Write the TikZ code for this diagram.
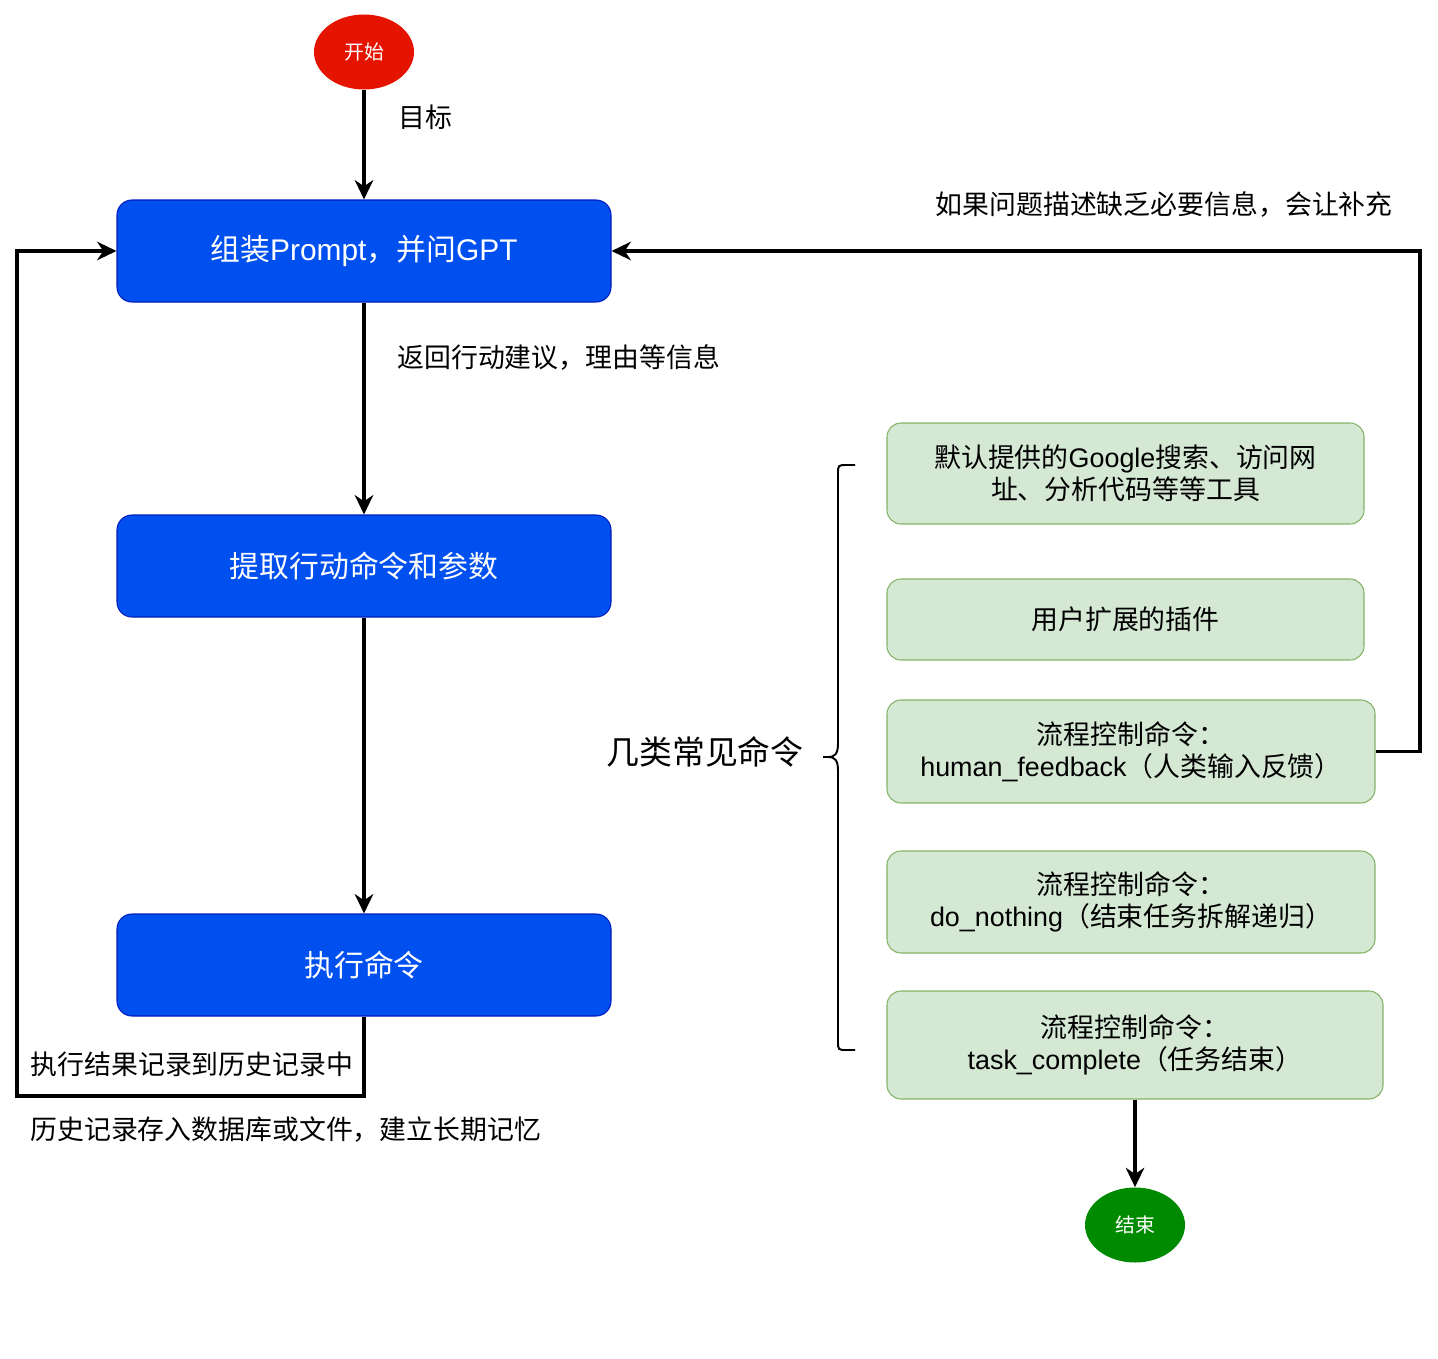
\documentclass[tikz,border=0pt]{standalone}
\usepackage{fontspec}
\setmainfont{Noto Sans CJK SC}
\newfontfamily\lat{Liberation Sans}
\usetikzlibrary{arrows.meta,shapes.geometric}

\definecolor{stepfill}{HTML}{0050EF}
\definecolor{stepline}{HTML}{001DBC}
\definecolor{cmdfill}{HTML}{D5E8D4}
\definecolor{cmdline}{HTML}{82B366}
\definecolor{startred}{HTML}{E51400}
\definecolor{endgreen}{HTML}{008A00}

\tikzset{
  stepbox/.style={draw=stepline, fill=stepfill, rounded corners=0.3cm, line width=0.6pt,
    minimum width=9.88cm, minimum height=2.04cm, inner sep=0pt, text=white,
    font=\fontsize{17}{20}\selectfont},
  cmdbox/.style={draw=cmdline, fill=cmdfill, rounded corners=0.28cm, line width=0.6pt,
    inner sep=0pt, align=center, font=\fontsize{15.3}{18}\selectfont},
  terminal/.style={ellipse, minimum width=2cm, minimum height=1.5cm, inner sep=0pt,
    text=white, font=\fontsize{11.3}{13}\selectfont},
  flow/.style={-{Stealth[length=11pt,width=10.5pt,inset=3.5pt]}, line width=1.8pt},
  note/.style={font=\fontsize{15.3}{18}\selectfont, inner sep=0pt},
}

\begin{document}
\begin{tikzpicture}
  \useasboundingbox (0,0) rectangle (28.76,-27.16);

  % main flow
  \node[terminal, fill=startred] (start) at (7.28,-1.04) {开始};
  \node[stepbox] (prompt) at (7.28,-5.02) {组装{\lat Prompt}，并问{\lat GPT}};
  \node[stepbox] (extract) at (7.28,-11.32) {提取行动命令和参数};
  \node[stepbox] (exec) at (7.28,-19.30) {执行命令};

  % command kinds
  \node[cmdbox, minimum width=9.54cm, minimum height=2.02cm] (tools) at (22.51,-9.47)
    {默认提供的{\lat Google}搜索、访问网\\址、分析代码等等工具};
  \node[cmdbox, minimum width=9.54cm, minimum height=1.62cm] (plugins) at (22.51,-12.39)
    {用户扩展的插件};
  \node[cmdbox, minimum width=9.76cm, minimum height=2.06cm] (feedback) at (22.62,-15.03)
    {流程控制命令：\\{\lat human\_feedback}（人类输入反馈）};
  \node[cmdbox, minimum width=9.76cm, minimum height=2.04cm] (nothing) at (22.62,-18.04)
    {流程控制命令：\\{\lat do\_nothing}（结束任务拆解递归）};
  \node[cmdbox, minimum width=9.92cm, minimum height=2.16cm] (complete) at (22.70,-20.90)
    {流程控制命令：\\{\lat task\_complete}（任务结束）};
  \node[terminal, fill=endgreen] (end) at (22.70,-24.50) {结束};

  % brace round the command kinds
  \draw[line width=1.1pt]
    (17.10,-9.30) -- (16.94,-9.30) .. controls (16.76,-9.30) .. (16.76,-9.48)
    -- (16.76,-14.86) .. controls (16.76,-15.08) and (16.70,-15.14) .. (16.56,-15.14)
    -- (16.46,-15.14) -- (16.56,-15.14)
    .. controls (16.70,-15.14) and (16.76,-15.20) .. (16.76,-15.42)
    -- (16.76,-20.82) .. controls (16.76,-21.00) .. (16.94,-21.00) -- (17.10,-21.00);
  \node[font=\fontsize{18.7}{22}\selectfont, inner sep=0pt] (kinds) at (14.10,-15.04) {几类常见命令};

  % connectors
  \draw[flow] (start) -- (prompt);
  \node[note, anchor=west] (goal) at (7.96,-2.34) {目标};
  \draw[flow] (prompt) -- (extract);
  \node[note, anchor=west] (advice) at (7.94,-7.16) {返回行动建议，理由等信息};
  \draw[flow] (extract) -- (exec);

  \coordinate (loopcorner) at (0.34,-21.92);
  \draw[flow] (exec.south) |- (loopcorner) |- (prompt.west);
  \node[note] (record) at (3.84,-21.28) {执行结果记录到历史记录中};
  \node[note, anchor=west] (memory) at (0.60,-22.60) {历史记录存入数据库或文件，建立长期记忆};

  \coordinate (askcorner) at (28.40,-15.03);
  \draw[flow] (feedback.east) -- (askcorner) |- (prompt.east);
  \node[note, anchor=east] (ask) at (27.86,-4.10) {如果问题描述缺乏必要信息，会让补充};

  \draw[flow] (complete) -- (end);

\end{tikzpicture}
\end{document}
